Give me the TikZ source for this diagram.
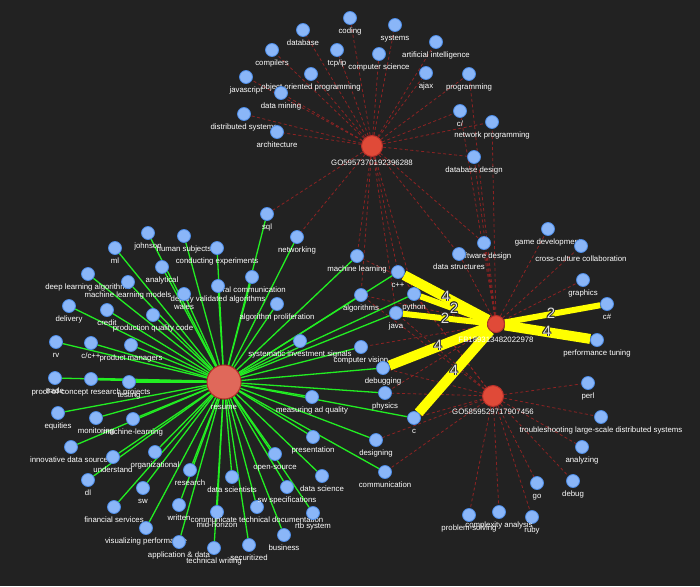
\documentclass[tikz,border=0pt]{standalone}
\usepackage{fontspec}
\setmainfont{Liberation Sans}
\newcommand\lbfont{\fontsize{7.8}{9}\selectfont}
\newcommand\wnfont{\fontsize{15}{17}\selectfont}
\definecolor{bgc}{HTML}{222222}
\definecolor{skfill}{HTML}{8AB6F8}
\definecolor{skdraw}{HTML}{4C8BE6}
\definecolor{hubfill}{HTML}{E04A38}
\definecolor{hubdraw}{HTML}{B8302A}
\definecolor{resfill}{HTML}{E0685A}
\definecolor{dashc}{HTML}{8E2222}
\definecolor{greenc}{HTML}{22EE22}
\definecolor{yelc}{HTML}{FFFF00}
\pgfdeclarelayer{edges}
\pgfdeclarelayer{bgl}
\pgfsetlayers{bgl,edges,main}
\tikzset{
  sk/.style={circle, fill=skfill, draw=skdraw, line width=0.8pt, minimum size=13pt, inner sep=0pt},
  hub/.style={circle, fill=hubfill, draw=hubdraw, line width=1pt, inner sep=0pt},
  lb/.style={text=white, font=\lbfont, inner sep=0pt, text height=6pt, text depth=1.6pt},
  jd/.style={draw=dashc, line width=0.8pt, dash pattern=on 3pt off 2.5pt},
  gr/.style={draw=greenc, line width=1.3pt},
  ye/.style={draw=yelc, line width=#1},
  wn/.style={font=\wnfont, inner sep=0pt}
}
\newcommand\sknode[4]{\node[sk, label={[lb,label distance=2.7pt]below:#4}] (#1) at (#2,#3) {};}
\newcommand\wnum[3]{%
  \foreach \dx/\dy in {-0.8/0,0.8/0,0/-0.8,0/0.8,-0.6/-0.6,0.6/0.6,-0.6/0.6,0.6/-0.6}
    {\node[wn, text=black!85] at (#1+\dx,#2+\dy) {#3};}
  \node[wn, text=white!88!black] at (#1,#2) {#3};}
\begin{document}
\begin{tikzpicture}[x=1pt,y=-1pt]
\begin{pgfonlayer}{bgl}
\fill[bgc] (0,0) rectangle (700,586);
\end{pgfonlayer}
\useasboundingbox (0,0) rectangle (700,586);

% ---------- nodes ----------
\node[hub, minimum size=21pt, label={[lb,label distance=2.2pt]below:GO5957370192396288}] (g1) at (372,146) {};
\node[hub, minimum size=17pt, label={[lb,label distance=3.2pt]below:FB189313482022978}] (fb) at (496,324) {};
\node[hub, minimum size=21pt, label={[lb,label distance=1.2pt]below:GO5859529717907456}] (g2) at (493,396) {};
\node[hub, fill=resfill, minimum size=34pt, label={[lb,label distance=4pt]below:resume}] (res) at (224,382) {};

% GO595 cluster
\sknode{a1}{350}{18}{coding}
\sknode{a2}{395}{25}{systems}
\sknode{a3}{303}{30}{database}
\sknode{a4}{436}{42}{artificial intelligence}
\sknode{a5}{272}{50}{compilers}
\sknode{a6}{337}{50}{tcp/ip}
\sknode{a7}{379}{54}{computer science}
\sknode{a8}{246}{77}{javascript}
\sknode{a9}{311}{74}{object oriented programming}
\sknode{a10}{426}{73}{ajax}
\sknode{a11}{469}{74}{programming}
\sknode{a12}{281}{93}{data mining}
\sknode{a13}{244}{114}{distributed systems}
\sknode{a14}{460}{111}{c/}
\sknode{a15}{492}{122}{network programming}
\sknode{a16}{277}{132}{architecture}
\sknode{a17}{474}{157}{database design}

% FB cluster
\sknode{b1}{548}{229}{game development}
\sknode{b2}{581}{246}{cross-culture collaboration}
\sknode{b3}{583}{280}{graphics}
\sknode{b4}{607}{304}{c\#}
\sknode{b5}{597}{340}{performance tuning}
\sknode{b6}{484}{243}{software design}
\sknode{b7}{459}{254}{data structures}

% GO5859 cluster
\sknode{c1}{588}{383}{perl}
\sknode{c2}{601}{417}{troubleshooting large-scale distributed systems}
\sknode{c3}{582}{447}{analyzing}
\sknode{c4}{573}{481}{debug}
\sknode{c5}{537}{483}{go}
\sknode{c6}{532}{517}{ruby}
\sknode{c7}{499}{512}{complexity analysis}
\sknode{c8}{469}{515}{problem-solving}

% shared
\sknode{s1}{267}{214}{sql}
\sknode{s2}{297}{237}{networking}
\sknode{s3}{357}{256}{machine learning}
\sknode{s4}{398}{272}{c++}
\sknode{s5}{414}{294}{python}
\sknode{s6}{396}{313}{java}
\sknode{s7}{361}{295}{algorithms}
\sknode{s8}{300}{341}{systematic investment signals}
\sknode{s9}{361}{347}{computer vision}
\sknode{s10}{383}{368}{debugging}
\sknode{s11}{385}{393}{physics}
\sknode{s12}{312}{397}{measuring ad quality}
\sknode{s13}{414}{418}{c}
\sknode{s14}{376}{440}{designing}
\sknode{s15}{313}{437}{presentation}
\sknode{s16}{385}{472}{communication}

% resume cluster
\sknode{r1}{148}{233}{johnson}
\sknode{r2}{115}{248}{ml}
\sknode{r3}{184}{236}{human subjects}
\sknode{r4}{217}{248}{conducting experiments}
\sknode{r5}{162}{267}{analytical}
\sknode{r6}{88}{274}{deep learning algorithms}
\sknode{r7}{128}{282}{machine learning models}
\sknode{r8}{252}{277}{oral communication}
\sknode{r9}{218}{286}{deploy validated algorithms}
\sknode{r10}{184}{294}{wales}
\sknode{r11}{277}{304}{algorithm proliferation}
\sknode{r12}{69}{306}{delivery}
\sknode{r13}{107}{310}{credit}
\sknode{r14}{153}{315}{production quality code}
\sknode{r15}{56}{342}{rv}
\sknode{r16}{91}{343}{c/c++}
\sknode{r17}{131}{345}{product managers}
\sknode{r18}{55}{378}{trade}
\sknode{r19}{91}{379}{proof-of-concept research projects}
\sknode{r20}{129}{382}{testing}
\sknode{r21}{58}{413}{equities}
\sknode{r22}{96}{418}{monitoring}
\sknode{r23}{133}{419}{machine-learning}
\sknode{r24}{71}{447}{innovative data sources}
\sknode{r25}{113}{457}{understand}
\sknode{r26}{155}{452}{organizational}
\sknode{r27}{88}{480}{dl}
\sknode{r28}{143}{488}{sw}
\sknode{r29}{190}{470}{research}
\sknode{r30}{114}{507}{financial services}
\sknode{r31}{179}{505}{written}
\sknode{r32}{146}{528}{visualizing performance}
\sknode{r33}{179}{542}{application \& data}
\sknode{r34}{214}{548}{technical writing}
\sknode{r35}{217}{512}{mid-horizon}
\sknode{r36}{257}{507}{communicate technical documentation}
\sknode{r37}{249}{545}{securitized}
\sknode{r38}{284}{535}{business}
\sknode{r39}{232}{477}{data scientists}
\sknode{r40}{287}{487}{sw specifications}
\sknode{r41}{275}{454}{open-source}
\sknode{r42}{322}{476}{data science}
\sknode{r43}{313}{513}{rtb system}

% ---------- edges ----------
\begin{pgfonlayer}{edges}
\foreach \t in {a1,a2,a3,a4,a5,a6,a7,a8,a9,a10,a11,a12,a13,a14,a15,a16,a17,s1,s2,s3,s4,s5,s6,s7,b6,b7}
  {\draw[jd] (g1) -- (\t);}
\foreach \t in {b1,b2,b3,b6,b7,s3,s7,s9,s11,a11,a14,a15,a17}
  {\draw[jd] (fb) -- (\t);}
\foreach \t in {c1,c2,c3,c4,c5,c6,c7,c8,s13,s14,s16,s11,s10,s4,s5,s6,s7}
  {\draw[jd] (g2) -- (\t);}
\foreach \t in {r1,r2,r3,r4,r5,r6,r7,r8,r9,r10,r11,r12,r13,r14,r15,r16,r17,r18,r21,r22,r23,r24,r25,r26,r27,r28,r29,r30,r31,r32,r33,r34,r35,r36,r37,r38,r39,r40,r41,r42,r43,s1,s2,s3,s4,s5,s6,s7,s8,s9,s10,s11,s12,s13,s14,s15,s16}
  {\draw[gr] (res) -- (\t);}
\draw[gr, line width=2.6pt] (res) -- (r19);
\draw[gr, line width=2.6pt] (res) -- (r20);
\draw[ye=10pt] (fb) -- (s4);
\draw[ye=6pt] (fb) -- (s5);
\draw[ye=6pt] (fb) -- (s6);
\draw[ye=10pt] (fb) -- (s10);
\draw[ye=10pt] (fb) -- (s13);
\draw[ye=6pt] (fb) -- (b4);
\draw[ye=10pt] (fb) -- (b5);
\end{pgfonlayer}

% weight labels
\wnum{446}{296}{4}
\wnum{454}{308}{2}
\wnum{445}{318}{2}
\wnum{438}{345}{4}
\wnum{454}{370}{4}
\wnum{551}{313}{2}
\wnum{547}{331}{4}

\end{tikzpicture}
\end{document}
